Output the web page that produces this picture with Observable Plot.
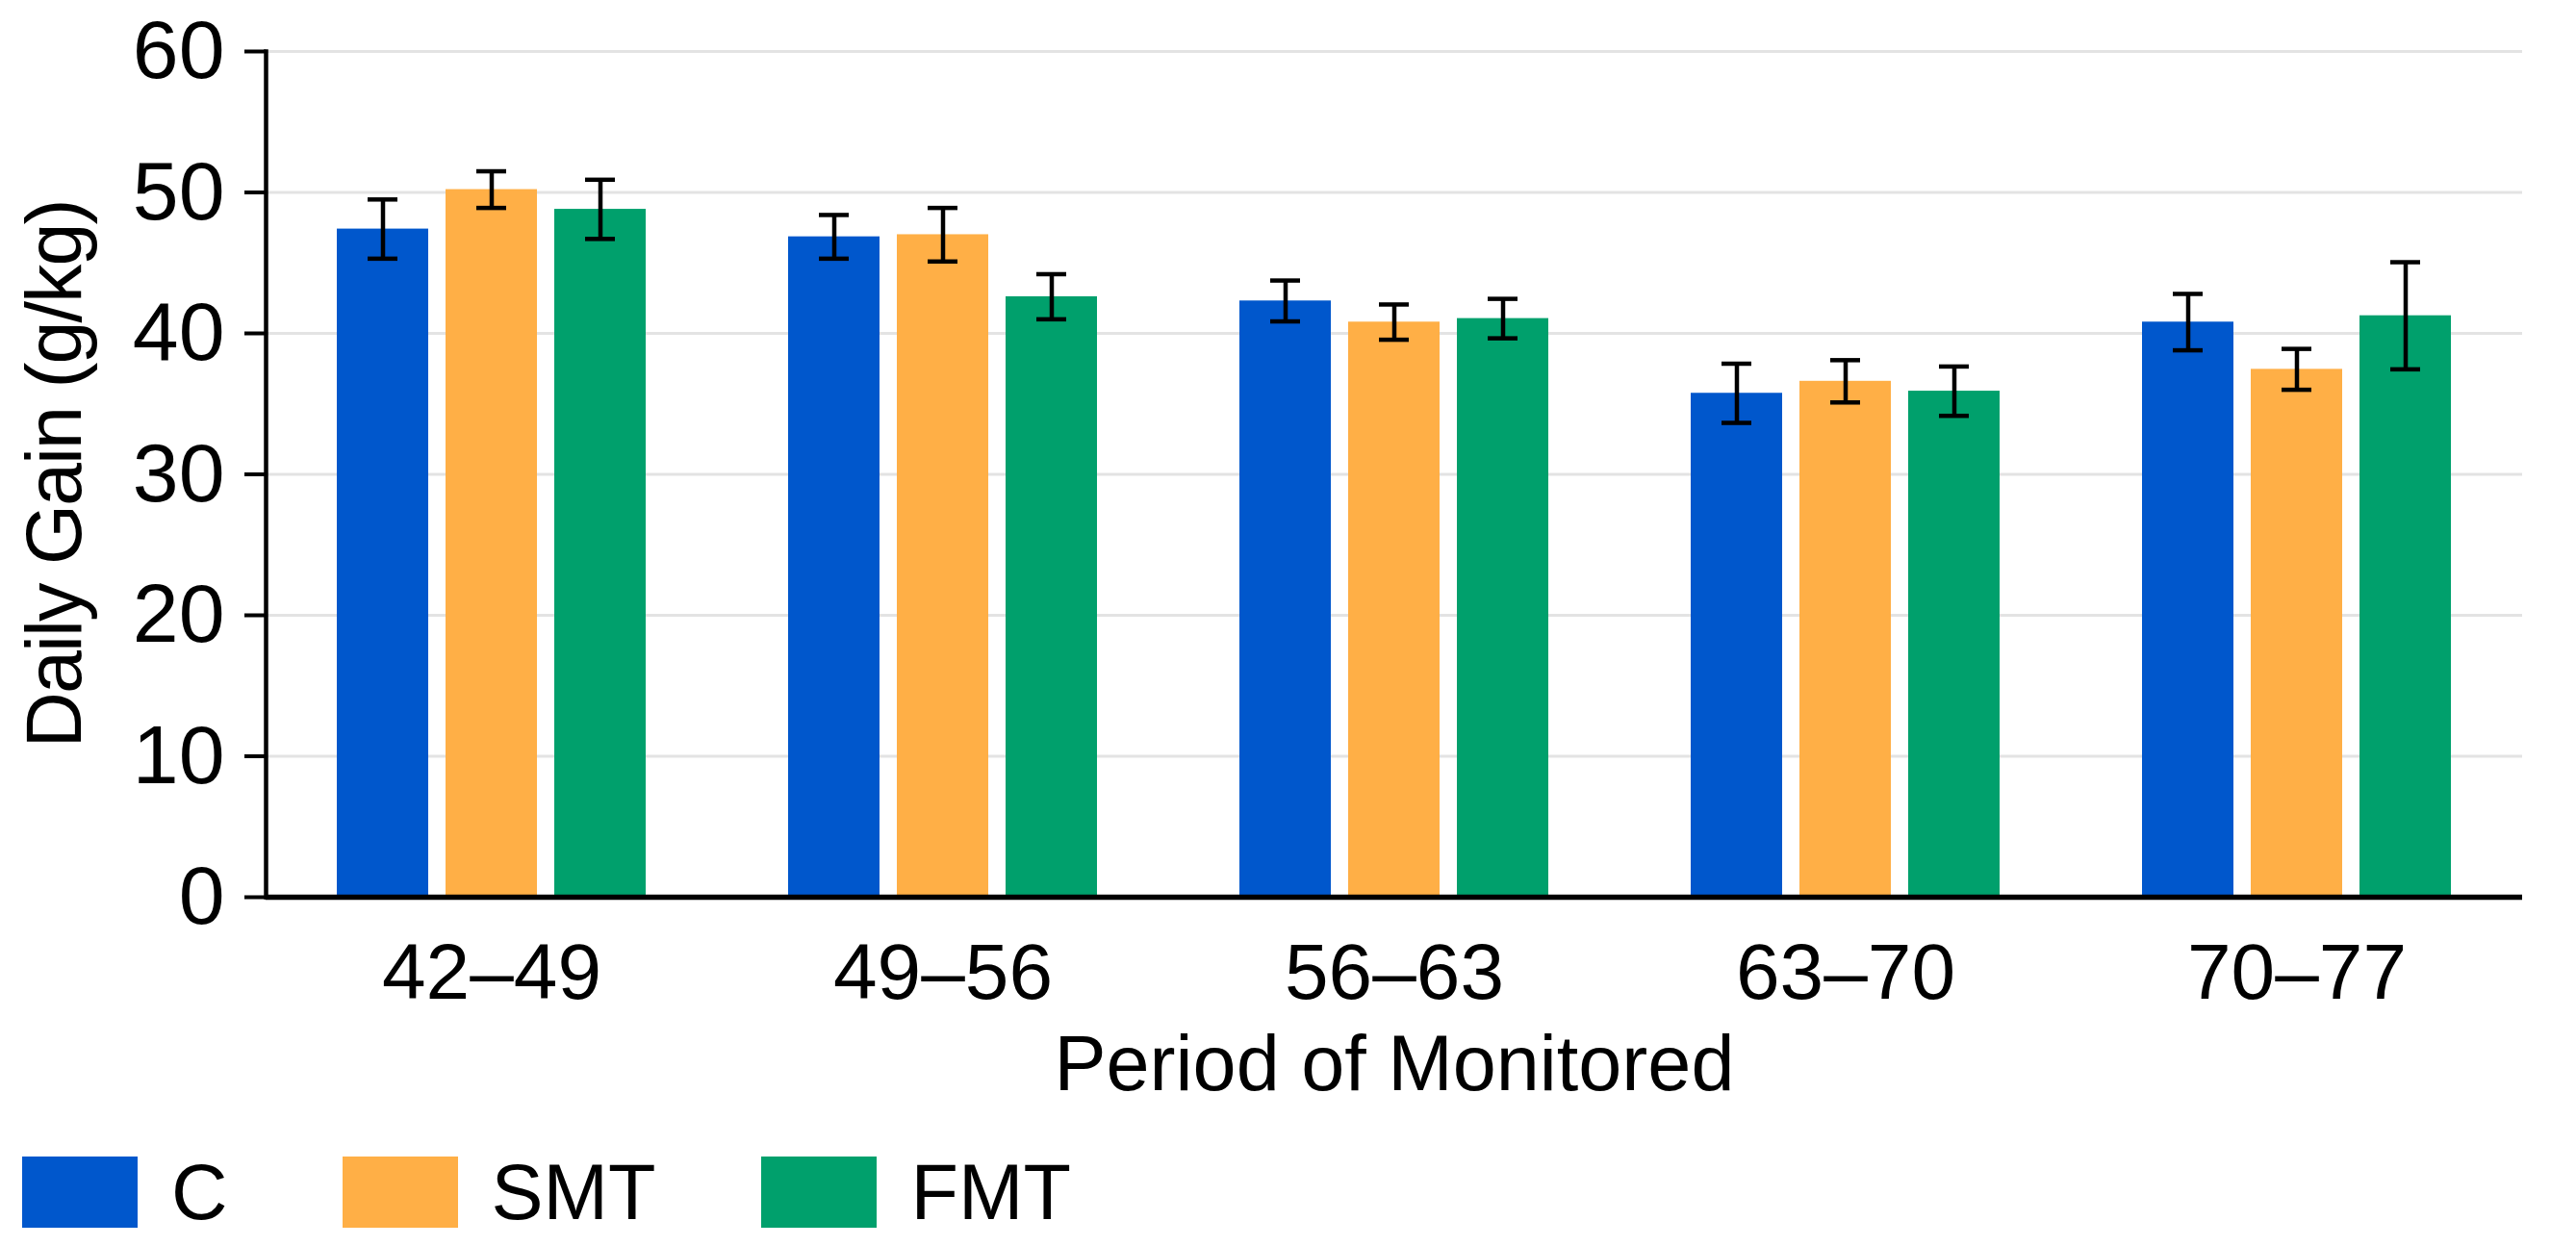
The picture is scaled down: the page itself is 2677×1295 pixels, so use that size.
<!DOCTYPE html>
<html>
<head>
<meta charset="utf-8">
<script src="https://cdn.jsdelivr.net/npm/d3@7"></script>
<script src="https://cdn.jsdelivr.net/npm/@observablehq/plot@0.6"></script>
<style>
  html, body { margin: 0; padding: 0; background: #fff; }
  body { font-family: "Liberation Sans", Arial, Helvetica, sans-serif; color: #000; }
  #chart svg { display: block; }
  #legend { display: flex; align-items: center; padding-left: 23px; margin-top: 32px; font-size: 81px; height: 74px; }
  .item { display: flex; align-items: center; }
  .sw { width: 120px; height: 74px; margin-right: 35px; }
  g[aria-label="y-axis tick label"] text { font-size: 86px; }
  g[aria-label="fx-axis tick label"] text { font-size: 82px; }
  g[aria-label="y-axis label"] text { letter-spacing: -2px; }
</style>
</head>
<body>
<div id="chart"></div>
<div id="legend"></div>
<script>
const periods = ["42–49", "49–56", "56–63", "63–70", "70–77"];
const series = ["C", "SMT", "FMT"];
const colors = ["#0057cc", "#ffaf46", "#00a06c"];
const valuesC = [47.4, 46.85, 42.3, 35.75, 40.8];
const errorsC = [2.1, 1.55, 1.45, 2.1, 2.0];
const valuesSMT = [50.2, 47.0, 40.8, 36.6, 37.45];
const errorsSMT = [1.3, 1.9, 1.25, 1.5, 1.45];
const valuesFMT = [48.8, 42.6, 41.05, 35.9, 41.25];
const errorsFMT = [2.1, 1.6, 1.4, 1.75, 3.8];
const yTicks = [0, 10, 20, 30, 40, 50, 60];
const yLabel = "Daily Gain (g/kg)";
const xLabel = "Period of Monitored";

const valuesBySeries = [valuesC, valuesSMT, valuesFMT];
const errorsBySeries = [errorsC, errorsSMT, errorsFMT];
const data = [];
periods.forEach((p, i) => {
  series.forEach((s, j) => {
    data.push({period: p, series: s, value: valuesBySeries[j][i], err: errorsBySeries[j][i]});
  });
});

const chart = Plot.plot({
  width: 2677,
  height: 1170,
  marginTop: 53,
  marginLeft: 275,
  marginRight: 55,
  marginBottom: 238,
  style: {fontFamily: '"Liberation Sans", Arial, Helvetica, sans-serif', fontSize: "81px", color: "#000", background: "#fff"},
  fx: {domain: periods, padding: 0, label: xLabel, tickSize: 0, tickPadding: 47, labelOffset: 200, labelAnchor: "center"},
  x: {domain: series, paddingInner: 0.16, paddingOuter: 0.64, axis: null},
  y: {domain: [0, 60]},
  color: {domain: series, range: colors},
  marks: [
    Plot.gridY(yTicks.filter(d => d > 0), {stroke: "#e3e3e3", strokeOpacity: 1, strokeWidth: 3}),
    Plot.axisY({ticks: yTicks, tickSize: 22, tickPadding: 21, strokeWidth: 4, label: yLabel, labelAnchor: "center", labelOffset: 250, labelArrow: "none"}),
    Plot.barY(data, {fx: "period", x: "series", y: "value", fill: "series"}),
    Plot.ruleX(data, {fx: "period", x: "series", y1: d => d.value - d.err, y2: d => d.value + d.err, stroke: "#000", strokeWidth: 4.5}),
    Plot.tickY(data, {fx: "period", x: "series", y: d => d.value - d.err, insetLeft: 32, insetRight: 32, stroke: "#000", strokeWidth: 4.5}),
    Plot.tickY(data, {fx: "period", x: "series", y: d => d.value + d.err, insetLeft: 32, insetRight: 32, stroke: "#000", strokeWidth: 4.5}),
    Plot.ruleY([0], {stroke: "#000", strokeWidth: 5.5}),
    Plot.frame({anchor: "left", facetAnchor: "left", stroke: "#000", strokeWidth: 4.5})
  ]
});
document.getElementById("chart").appendChild(chart);

const legend = document.getElementById("legend");
const gaps = [0, 119, 110];
series.forEach((s, j) => {
  const item = document.createElement("div");
  item.className = "item";
  item.style.marginLeft = gaps[j] + "px";
  const sw = document.createElement("div");
  sw.className = "sw";
  sw.style.background = colors[j];
  const t = document.createElement("span");
  t.textContent = s;
  item.appendChild(sw);
  item.appendChild(t);
  legend.appendChild(item);
});
</script>
</body>
</html>
